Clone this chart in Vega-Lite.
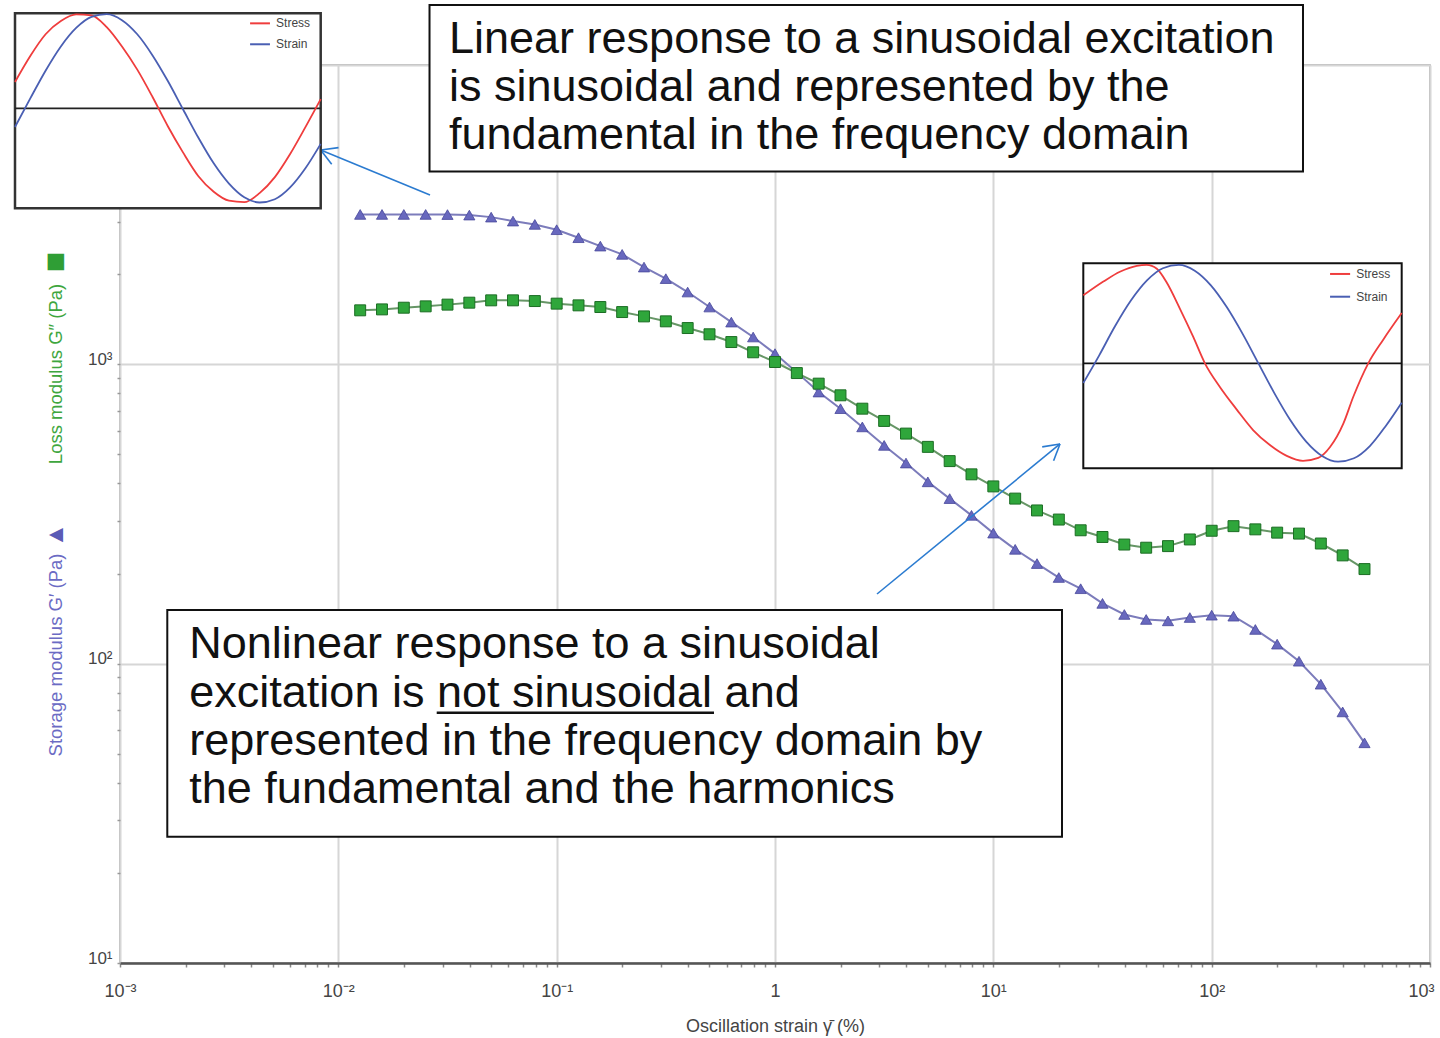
{
  "$schema": "https://vega.github.io/schema/vega-lite/v6.json",
  "width": 1310,
  "height": 898,
  "autosize": {"type": "none"},
  "padding": {"left": 120, "top": 65, "right": 10, "bottom": 75},
  "background": "white",
  "config": {
    "font": "Liberation Sans",
    "view": {"stroke": "#a3a3a3", "strokeWidth": 1.5}
  },
  "datasets": {
    "moduli": [
      {"strain": 0.01259, "storage": 3168, "loss": 1515},
      {"strain": 0.01585, "storage": 3168, "loss": 1526},
      {"strain": 0.01995, "storage": 3168, "loss": 1546},
      {"strain": 0.02512, "storage": 3168, "loss": 1562},
      {"strain": 0.03162, "storage": 3165, "loss": 1583},
      {"strain": 0.03981, "storage": 3152, "loss": 1607},
      {"strain": 0.05012, "storage": 3103, "loss": 1636},
      {"strain": 0.0631, "storage": 3010, "loss": 1636},
      {"strain": 0.07943, "storage": 2934, "loss": 1627},
      {"strain": 0.1, "storage": 2817, "loss": 1595},
      {"strain": 0.1259, "storage": 2649, "loss": 1574},
      {"strain": 0.1585, "storage": 2483, "loss": 1554},
      {"strain": 0.1995, "storage": 2330, "loss": 1495},
      {"strain": 0.2512, "storage": 2113, "loss": 1446},
      {"strain": 0.3162, "storage": 1933, "loss": 1392},
      {"strain": 0.3981, "storage": 1744, "loss": 1322},
      {"strain": 0.5012, "storage": 1554, "loss": 1260},
      {"strain": 0.631, "storage": 1384, "loss": 1187},
      {"strain": 0.7943, "storage": 1234, "loss": 1097},
      {"strain": 1, "storage": 1086, "loss": 1018},
      {"strain": 1.259, "storage": 940, "loss": 935},
      {"strain": 1.585, "storage": 808, "loss": 862},
      {"strain": 1.995, "storage": 711, "loss": 788},
      {"strain": 2.512, "storage": 618, "loss": 711},
      {"strain": 3.162, "storage": 536, "loss": 647},
      {"strain": 3.981, "storage": 468, "loss": 587},
      {"strain": 5.012, "storage": 405, "loss": 530},
      {"strain": 6.31, "storage": 356, "loss": 475},
      {"strain": 7.943, "storage": 313, "loss": 429},
      {"strain": 10, "storage": 273, "loss": 391},
      {"strain": 12.59, "storage": 241, "loss": 356},
      {"strain": 15.85, "storage": 216, "loss": 325},
      {"strain": 19.95, "storage": 194, "loss": 303},
      {"strain": 25.12, "storage": 178, "loss": 279},
      {"strain": 31.62, "storage": 159, "loss": 265},
      {"strain": 39.81, "storage": 146, "loss": 250},
      {"strain": 50.12, "storage": 140.5, "loss": 244},
      {"strain": 63.1, "storage": 139, "loss": 247},
      {"strain": 79.43, "storage": 142.6, "loss": 260},
      {"strain": 100, "storage": 145.2, "loss": 278},
      {"strain": 125.9, "storage": 144.1, "loss": 288},
      {"strain": 158.5, "storage": 130.1, "loss": 281},
      {"strain": 199.5, "storage": 116.2, "loss": 274},
      {"strain": 251.2, "storage": 101.9, "loss": 272},
      {"strain": 316.2, "storage": 85.4, "loss": 252},
      {"strain": 398.1, "storage": 69.0, "loss": 230},
      {"strain": 501.2, "storage": 54.4, "loss": 207}
    ],
    "inset1": [
      {"t": 0, "signal": "Stress", "amp": 0.279},
      {"t": 5, "signal": "Stress", "amp": 0.555},
      {"t": 10, "signal": "Stress", "amp": 0.785},
      {"t": 15, "signal": "Stress", "amp": 0.925},
      {"t": 20, "signal": "Stress", "amp": 0.995},
      {"t": 25, "signal": "Stress", "amp": 0.985},
      {"t": 30, "signal": "Stress", "amp": 0.86},
      {"t": 35, "signal": "Stress", "amp": 0.655},
      {"t": 40, "signal": "Stress", "amp": 0.41},
      {"t": 45, "signal": "Stress", "amp": 0.12},
      {"t": 50, "signal": "Stress", "amp": -0.19},
      {"t": 55, "signal": "Stress", "amp": -0.47},
      {"t": 60, "signal": "Stress", "amp": -0.72},
      {"t": 65, "signal": "Stress", "amp": -0.885},
      {"t": 70, "signal": "Stress", "amp": -0.98},
      {"t": 75, "signal": "Stress", "amp": -0.995},
      {"t": 80, "signal": "Stress", "amp": -0.9},
      {"t": 85, "signal": "Stress", "amp": -0.73},
      {"t": 90, "signal": "Stress", "amp": -0.485},
      {"t": 95, "signal": "Stress", "amp": -0.2},
      {"t": 100, "signal": "Stress", "amp": 0.097},
      {"t": 0, "signal": "Strain", "amp": -0.198},
      {"t": 5, "signal": "Strain", "amp": 0.105},
      {"t": 10, "signal": "Strain", "amp": 0.399},
      {"t": 15, "signal": "Strain", "amp": 0.656},
      {"t": 20, "signal": "Strain", "amp": 0.852},
      {"t": 25, "signal": "Strain", "amp": 0.97},
      {"t": 30, "signal": "Strain", "amp": 0.998},
      {"t": 35, "signal": "Strain", "amp": 0.935},
      {"t": 40, "signal": "Strain", "amp": 0.785},
      {"t": 45, "signal": "Strain", "amp": 0.561},
      {"t": 50, "signal": "Strain", "amp": 0.289},
      {"t": 55, "signal": "Strain", "amp": -0.013},
      {"t": 60, "signal": "Strain", "amp": -0.313},
      {"t": 65, "signal": "Strain", "amp": -0.584},
      {"t": 70, "signal": "Strain", "amp": -0.799},
      {"t": 75, "signal": "Strain", "amp": -0.944},
      {"t": 80, "signal": "Strain", "amp": -0.999},
      {"t": 85, "signal": "Strain", "amp": -0.964},
      {"t": 90, "signal": "Strain", "amp": -0.839},
      {"t": 95, "signal": "Strain", "amp": -0.636},
      {"t": 100, "signal": "Strain", "amp": -0.377}
    ],
    "inset2": [
      {"t": 0, "signal": "Stress", "amp": 0.69},
      {"t": 6.3, "signal": "Stress", "amp": 0.83},
      {"t": 11.5, "signal": "Stress", "amp": 0.93},
      {"t": 16.8, "signal": "Stress", "amp": 0.99},
      {"t": 19.9, "signal": "Stress", "amp": 1.0},
      {"t": 23.1, "signal": "Stress", "amp": 0.96},
      {"t": 26.2, "signal": "Stress", "amp": 0.82},
      {"t": 30.4, "signal": "Stress", "amp": 0.55},
      {"t": 34.5, "signal": "Stress", "amp": 0.27},
      {"t": 38.2, "signal": "Stress", "amp": 0.0},
      {"t": 42.9, "signal": "Stress", "amp": -0.24},
      {"t": 48.2, "signal": "Stress", "amp": -0.47},
      {"t": 53.4, "signal": "Stress", "amp": -0.68},
      {"t": 58.6, "signal": "Stress", "amp": -0.83},
      {"t": 63.9, "signal": "Stress", "amp": -0.94},
      {"t": 69.0, "signal": "Stress", "amp": -0.99},
      {"t": 73.8, "signal": "Stress", "amp": -0.96},
      {"t": 77.5, "signal": "Stress", "amp": -0.85},
      {"t": 81.7, "signal": "Stress", "amp": -0.61},
      {"t": 84.8, "signal": "Stress", "amp": -0.34},
      {"t": 89.5, "signal": "Stress", "amp": 0.0},
      {"t": 94.2, "signal": "Stress", "amp": 0.24},
      {"t": 100, "signal": "Stress", "amp": 0.51},
      {"t": 0, "signal": "Strain", "amp": -0.2},
      {"t": 5, "signal": "Strain", "amp": 0.081},
      {"t": 10, "signal": "Strain", "amp": 0.378},
      {"t": 15, "signal": "Strain", "amp": 0.639},
      {"t": 20, "signal": "Strain", "amp": 0.841},
      {"t": 25, "signal": "Strain", "amp": 0.965},
      {"t": 30, "signal": "Strain", "amp": 0.999},
      {"t": 35, "signal": "Strain", "amp": 0.94},
      {"t": 40, "signal": "Strain", "amp": 0.794},
      {"t": 45, "signal": "Strain", "amp": 0.573},
      {"t": 50, "signal": "Strain", "amp": 0.301},
      {"t": 55, "signal": "Strain", "amp": -0.001},
      {"t": 60, "signal": "Strain", "amp": -0.303},
      {"t": 65, "signal": "Strain", "amp": -0.576},
      {"t": 70, "signal": "Strain", "amp": -0.795},
      {"t": 75, "signal": "Strain", "amp": -0.941},
      {"t": 80, "signal": "Strain", "amp": -0.999},
      {"t": 85, "signal": "Strain", "amp": -0.964},
      {"t": 90, "signal": "Strain", "amp": -0.84},
      {"t": 95, "signal": "Strain", "amp": -0.636},
      {"t": 100, "signal": "Strain", "amp": -0.4}
    ]
  },
  "layer": [
    {
      "layer": [
        {
          "data": {"name": "moduli"},
          "mark": {"type": "line", "color": "#7c7cbb", "strokeWidth": 2},
          "encoding": {
            "x": {
              "field": "strain", "type": "quantitative",
              "scale": {"type": "log", "domain": [0.001, 1000], "nice": false},
              "axis": {
                "values": [0.001,0.002,0.003,0.004,0.005,0.006,0.007,0.008,0.009,0.01,0.02,0.03,0.04,0.05,0.06,0.07,0.08,0.09,0.1,0.2,0.3,0.4,0.5,0.6,0.7,0.8,0.9,1,2,3,4,5,6,7,8,9,10,20,30,40,50,60,70,80,90,100,200,300,400,500,600,700,800,900,1000],
                "labelExpr": "abs(log(datum.value)/LN10 - round(log(datum.value)/LN10)) > 0.001 ? '' : (round(log(datum.value)/LN10) == 0 ? '1' : '10' + (round(log(datum.value)/LN10) == -3 ? '⁻³' : round(log(datum.value)/LN10) == -2 ? '⁻²' : round(log(datum.value)/LN10) == -1 ? '⁻¹' : round(log(datum.value)/LN10) == 1 ? '¹' : round(log(datum.value)/LN10) == 2 ? '²' : '³'))",
                "grid": true,
                "gridColor": {"condition": {"test": "abs(log(datum.value)/LN10 - round(log(datum.value)/LN10)) < 0.001", "value": "#d6d6d6"}, "value": "rgba(0,0,0,0)"},
                "gridWidth": 2,
                "tickSize": 4,
                "tickWidth": 1.5,
                "tickColor": "#888888",
                "domainColor": "#555555",
                "domainWidth": 2.5,
                "labelFontSize": 18,
                "labelColor": "#444444",
                "labelPadding": 15,
                "labelOffset": {"condition": {"test": "datum.value > 999", "value": -9}, "value": 0},
                "labelFlush": false,
                "labelOverlap": false,
                "labelBound": false,
                "title": "Oscillation strain γ̄ (%)",
                "titleFontSize": 18,
                "titleFontWeight": "normal",
                "titleColor": "#444444",
                "titlePadding": 17
              }
            },
            "y": {
              "field": "storage", "type": "quantitative",
              "scale": {"type": "log", "domain": [10, 10000], "nice": false},
              "axis": {
                "values": [10,20,30,40,50,60,70,80,90,100,200,300,400,500,600,700,800,900,1000,2000,3000,4000,5000,6000,7000,8000,9000,10000],
                "labelExpr": "abs(log(datum.value)/LN10 - round(log(datum.value)/LN10)) > 0.001 ? '' : '10' + (round(log(datum.value)/LN10) == 1 ? '¹' : round(log(datum.value)/LN10) == 2 ? '²' : round(log(datum.value)/LN10) == 3 ? '³' : '⁴')",
                "grid": true,
                "gridColor": {"condition": {"test": "abs(log(datum.value)/LN10 - round(log(datum.value)/LN10)) < 0.001", "value": "#d6d6d6"}, "value": "rgba(0,0,0,0)"},
                "gridWidth": 2,
                "tickSize": 3,
                "tickWidth": 1.5,
                "tickColor": "#999999",
                "domain": false,
                "labelFontSize": 17,
                "labelColor": "#444444",
                "labelPadding": 5,
                "labelBaseline": "alphabetic",
                "labelOverlap": false,
                "labelBound": false,
                "labelFlush": false,
                "title": null
              }
            }
          }
        },
        {
          "data": {"name": "moduli"},
          "mark": {"type": "point", "shape": "triangle-up", "filled": true, "fill": "#6868be", "stroke": "#48489a", "strokeWidth": 0.8, "size": 125, "opacity": 1},
          "encoding": {
            "x": {"field": "strain", "type": "quantitative"},
            "y": {"field": "storage", "type": "quantitative"}
          }
        },
        {
          "data": {"name": "moduli"},
          "mark": {"type": "line", "color": "#669666", "strokeWidth": 2},
          "encoding": {
            "x": {"field": "strain", "type": "quantitative"},
            "y": {"field": "loss", "type": "quantitative"}
          }
        },
        {
          "data": {"name": "moduli"},
          "mark": {"type": "square", "filled": true, "fill": "#2fa63b", "stroke": "#1c6d24", "strokeWidth": 1, "size": 120, "opacity": 1},
          "encoding": {
            "x": {"field": "strain", "type": "quantitative"},
            "y": {"field": "loss", "type": "quantitative"}
          }
        },
        {
          "data": {"values": [{}]},
          "mark": {"type": "rect", "fill": "white", "stroke": "#111111", "strokeWidth": 2},
          "encoding": {
            "x": {"datum": 0.02616}, "x2": {"datum": 262.0},
            "y": {"datum": 15865}, "y2": {"datum": 4408}
          }
        },
        {
          "data": {"values": [{}]},
          "mark": {"type": "text", "align": "left", "baseline": "alphabetic", "fontSize": 45, "lineHeight": 48, "color": "#111111"},
          "encoding": {
            "x": {"datum": 0.03213}, "y": {"datum": 10942},
            "text": {"value": ["Linear response to a sinusoidal excitation", "is sinusoidal and represented by the", "fundamental in the frequency domain"]}
          }
        },
        {
          "data": {"values": [{}]},
          "mark": {"type": "rect", "fill": "white", "stroke": "#111111", "strokeWidth": 2},
          "encoding": {
            "x": {"datum": 0.0016466}, "x2": {"datum": 20.63},
            "y": {"datum": 151.1}, "y2": {"datum": 26.42}
          }
        },
        {
          "data": {"values": [{}]},
          "mark": {"type": "text", "align": "left", "baseline": "alphabetic", "fontSize": 45, "lineHeight": 48.3, "color": "#111111"},
          "encoding": {
            "x": {"datum": 0.002077}, "y": {"datum": 104.2},
            "text": {"value": ["Nonlinear response to a sinusoidal", "excitation is not sinusoidal and", "represented in the frequency domain by", "the fundamental and the harmonics"]}
          }
        },
        {
          "data": {"values": [{}]},
          "mark": {"type": "rule", "color": "#111111", "strokeWidth": 2.5},
          "encoding": {
            "x": {"datum": 0.028222}, "x2": {"datum": 0.5255},
            "y": {"datum": 68.59}
          }
        },
        {
          "data": {"values": [{}]},
          "mark": {"type": "rule", "color": "#2b7bd0", "strokeWidth": 1.6},
          "encoding": {
            "x": {"datum": 0.026295}, "y": {"datum": 3679},
            "x2": {"datum": 0.0083045}, "y2": {"datum": 5200.5}
          }
        },
        {
          "data": {"values": [{}]},
          "mark": {"type": "rule", "color": "#2b7bd0", "strokeWidth": 1.6},
          "encoding": {
            "x": {"datum": 0.0083045}, "y": {"datum": 5200.5},
            "x2": {"datum": 0.010018}, "y2": {"datum": 5297}
          }
        },
        {
          "data": {"values": [{}]},
          "mark": {"type": "rule", "color": "#2b7bd0", "strokeWidth": 1.6},
          "encoding": {
            "x": {"datum": 0.0083045}, "y": {"datum": 5200.5},
            "x2": {"datum": 0.0093243}, "y2": {"datum": 4659}
          }
        },
        {
          "data": {"values": [{}]},
          "mark": {"type": "rule", "color": "#2b7bd0", "strokeWidth": 1.6},
          "encoding": {
            "x": {"datum": 2.9324}, "y": {"datum": 170.9},
            "x2": {"datum": 20.2}, "y2": {"datum": 541.9}
          }
        },
        {
          "data": {"values": [{}]},
          "mark": {"type": "rule", "color": "#2b7bd0", "strokeWidth": 1.6},
          "encoding": {
            "x": {"datum": 20.2}, "y": {"datum": 541.9},
            "x2": {"datum": 16.744}, "y2": {"datum": 529.9}
          }
        },
        {
          "data": {"values": [{}]},
          "mark": {"type": "rule", "color": "#2b7bd0", "strokeWidth": 1.6},
          "encoding": {
            "x": {"datum": 20.2}, "y": {"datum": 541.9},
            "x2": {"datum": 18.88}, "y2": {"datum": 476.1}
          }
        },
        {
          "data": {"values": [{}]},
          "mark": {"type": "text", "angle": 270, "align": "center", "baseline": "middle", "fontSize": 18.5, "color": "#6b6bc4"},
          "encoding": {
            "x": {"datum": 0.000509}, "y": {"datum": 106.9},
            "text": {"value": "Storage modulus  G′ (Pa)"}
          }
        },
        {
          "data": {"values": [{}]},
          "mark": {"type": "text", "angle": 270, "align": "center", "baseline": "middle", "fontSize": 24, "color": "#5b5bb6"},
          "encoding": {
            "x": {"datum": 0.000509}, "y": {"datum": 269.0},
            "text": {"value": "▲"}
          }
        },
        {
          "data": {"values": [{}]},
          "mark": {"type": "text", "angle": 270, "align": "center", "baseline": "middle", "fontSize": 18.5, "color": "#3ea63e"},
          "encoding": {
            "x": {"datum": 0.000509}, "y": {"datum": 928.4},
            "text": {"value": "Loss modulus  G″ (Pa)"}
          }
        },
        {
          "data": {"values": [{}]},
          "mark": {"type": "text", "angle": 270, "align": "center", "baseline": "middle", "fontSize": 34, "color": "#2f9e35"},
          "encoding": {
            "x": {"datum": 0.000509}, "y": {"datum": 2197},
            "text": {"value": "■"}
          }
        }
      ]
    },
    {
      "layer": [
        {
          "data": {"values": [{}]},
          "mark": {"type": "rect", "fill": "white", "stroke": "#333333", "strokeWidth": 2.5},
          "encoding": {
            "x": {"datum": 0, "scale": {"domain": [34.348, 462.87], "nice": false, "zero": false}, "axis": null},
            "x2": {"datum": 100},
            "y": {"datum": 1.007, "scale": {"domain": [-9.0636, 0.4592], "nice": false, "zero": false}, "axis": null},
            "y2": {"datum": -1.06}
          }
        },
        {
          "data": {"values": [{}]},
          "mark": {"type": "rule", "color": "#222222", "strokeWidth": 1.8},
          "encoding": {
            "x": {"datum": 0, "axis": null}, "x2": {"datum": 100},
            "y": {"datum": 0, "axis": null}
          }
        },
        {
          "data": {"name": "inset1"},
          "mark": {"type": "line", "strokeWidth": 1.8, "interpolate": "monotone"},
          "encoding": {
            "x": {"field": "t", "type": "quantitative", "axis": null},
            "y": {"field": "amp", "type": "quantitative", "axis": null},
            "color": {"field": "signal", "type": "nominal", "scale": {"domain": ["Stress", "Strain"], "range": ["#ef3d3d", "#4a5fb3"]}, "legend": null}
          }
        },
        {
          "data": {"values": [{}]},
          "mark": {"type": "rule", "color": "#ef3d3d", "strokeWidth": 2},
          "encoding": {
            "x": {"datum": 76.9, "axis": null}, "x2": {"datum": 83.4},
            "y": {"datum": 0.901, "axis": null}
          }
        },
        {
          "data": {"values": [{}]},
          "mark": {"type": "rule", "color": "#4a5fb3", "strokeWidth": 2},
          "encoding": {
            "x": {"datum": 76.9, "axis": null}, "x2": {"datum": 83.4},
            "y": {"datum": 0.679, "axis": null}
          }
        },
        {
          "data": {"values": [{}]},
          "mark": {"type": "text", "align": "left", "baseline": "middle", "fontSize": 12, "color": "#444444"},
          "encoding": {
            "x": {"datum": 85.4, "axis": null},
            "y": {"datum": 0.901, "axis": null},
            "text": {"value": "Stress"}
          }
        },
        {
          "data": {"values": [{}]},
          "mark": {"type": "text", "align": "left", "baseline": "middle", "fontSize": 12, "color": "#444444"},
          "encoding": {
            "x": {"datum": 85.4, "axis": null},
            "y": {"datum": 0.679, "axis": null},
            "text": {"value": "Strain"}
          }
        }
      ]
    },
    {
      "layer": [
        {
          "data": {"values": [{}]},
          "mark": {"type": "rect", "fill": "white", "stroke": "#111111", "strokeWidth": 2},
          "encoding": {
            "x": {"datum": 0, "scale": {"domain": [-302.55, 108.89], "nice": false, "zero": false}, "axis": null},
            "x2": {"datum": 100},
            "y": {"datum": 1.0152, "scale": {"domain": [-6.0883, 3.0284], "nice": false, "zero": false}, "axis": null},
            "y2": {"datum": -1.066}
          }
        },
        {
          "data": {"values": [{}]},
          "mark": {"type": "rule", "color": "#111111", "strokeWidth": 1.8},
          "encoding": {
            "x": {"datum": 0, "axis": null}, "x2": {"datum": 100},
            "y": {"datum": 0, "axis": null}
          }
        },
        {
          "data": {"name": "inset2"},
          "mark": {"type": "line", "strokeWidth": 1.8, "interpolate": "monotone"},
          "encoding": {
            "x": {"field": "t", "type": "quantitative", "axis": null},
            "y": {"field": "amp", "type": "quantitative", "axis": null},
            "color": {"field": "signal", "type": "nominal", "scale": {"domain": ["Stress", "Strain"], "range": ["#ef3d3d", "#4a5fb3"]}, "legend": null}
          }
        },
        {
          "data": {"values": [{}]},
          "mark": {"type": "rule", "color": "#ef3d3d", "strokeWidth": 2},
          "encoding": {
            "x": {"datum": 77.5, "axis": null}, "x2": {"datum": 83.8},
            "y": {"datum": 0.907, "axis": null}
          }
        },
        {
          "data": {"values": [{}]},
          "mark": {"type": "rule", "color": "#4a5fb3", "strokeWidth": 2},
          "encoding": {
            "x": {"datum": 77.5, "axis": null}, "x2": {"datum": 83.8},
            "y": {"datum": 0.676, "axis": null}
          }
        },
        {
          "data": {"values": [{}]},
          "mark": {"type": "text", "align": "left", "baseline": "middle", "fontSize": 12, "color": "#444444"},
          "encoding": {
            "x": {"datum": 85.7, "axis": null},
            "y": {"datum": 0.907, "axis": null},
            "text": {"value": "Stress"}
          }
        },
        {
          "data": {"values": [{}]},
          "mark": {"type": "text", "align": "left", "baseline": "middle", "fontSize": 12, "color": "#444444"},
          "encoding": {
            "x": {"datum": 85.7, "axis": null},
            "y": {"datum": 0.676, "axis": null},
            "text": {"value": "Strain"}
          }
        }
      ]
    }
  ],
  "resolve": {"scale": {"x": "independent", "y": "independent"}}
}
